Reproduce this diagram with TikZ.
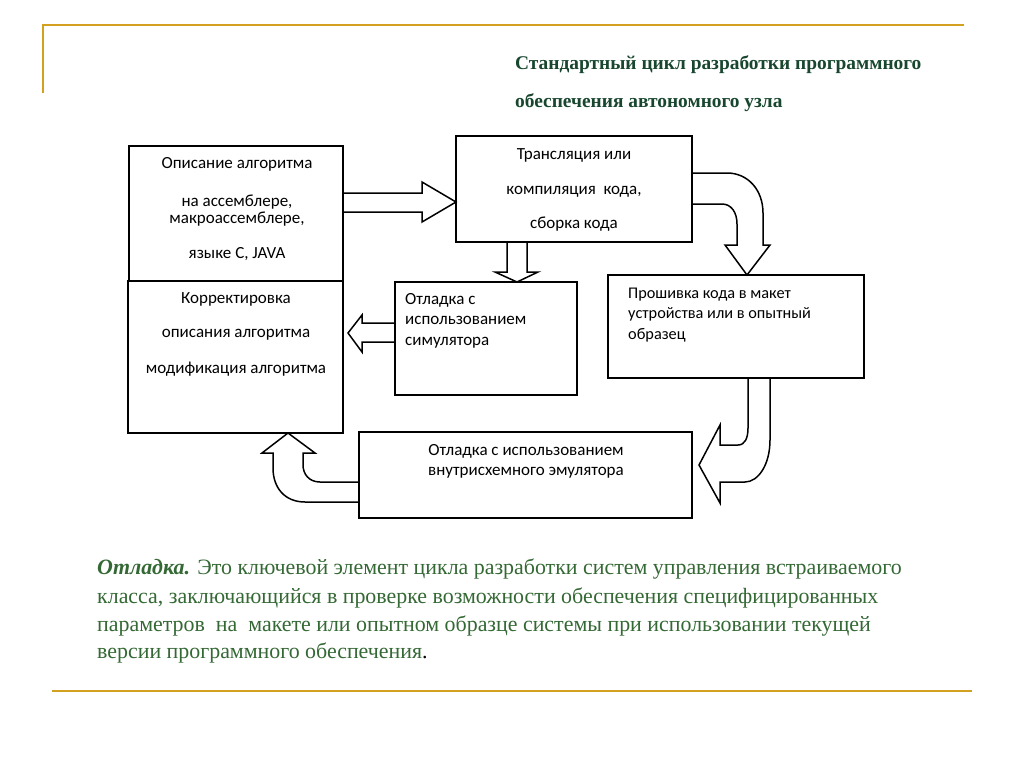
\documentclass[tikz,border=0pt]{standalone}
\usepackage{fontspec}
\setmainfont{Liberation Serif}
\newfontfamily\boxfont{Carlito}
\definecolor{gold}{RGB}{212,160,32}
\definecolor{titlegreen}{RGB}{24,70,46}
\definecolor{bodygreen}{RGB}{52,104,52}
\begin{document}
\begin{tikzpicture}[x=1pt,y=-1pt]
\useasboundingbox (0,0) rectangle (1024,768);
\tikzset{
  frame/.style={draw, line width=1.5pt, inner sep=0pt},
  blockarrow/.style={draw, fill=white, line width=1.5pt, line join=miter},
  btext/.style={inner sep=0pt, anchor=mid, font=\boxfont\fontsize{17}{20}\selectfont},
  ltext/.style={inner sep=0pt, anchor=mid west, font=\boxfont\fontsize{17}{20}\selectfont},
  pbtext/.style={inner sep=0pt, anchor=mid west, font=\boxfont\fontsize{16.3}{20}\selectfont},
  ttext/.style={inner sep=0pt, anchor=mid west, text=titlegreen, font=\fontsize{19.4}{22}\selectfont\bfseries},
  ptext/.style={inner sep=0pt, anchor=mid west, text=bodygreen, font=\fontsize{21.9}{24}\selectfont},
  rule/.style={draw=gold, line width=2pt}
}
% decorative rules
\coordinate (g1) at (42,25);
\coordinate (g2) at (964,25);
\coordinate (g0) at (43,24);
\coordinate (g3) at (43,93);
\coordinate (g4) at (52,691);
\coordinate (g5) at (972,691);
\draw[rule] (g1) -- (g2);
\draw[rule] (g0) -- (g3);
\draw[rule] (g4) -- (g5);

% title
\node[ttext] (t1) at (515,67) {Стандартный цикл разработки программного};
\node[ttext] (t2) at (515,105) {обеспечения автономного узла};

% block arrows (drawn before boxes)
\draw[blockarrow] (343,193) -- (422,193) -- (422,182) -- (456,202) -- (422,222) -- (422,212) -- (343,212) -- cycle;
\draw[blockarrow] (507,242) -- (507,272) -- (495,272) -- (517,282) -- (538,272) -- (527,272) -- (527,242) -- cycle;
\draw[blockarrow] (395,323) -- (362,323) -- (362,315) -- (348,333) -- (362,352) -- (362,342) -- (395,342) -- cycle;
\draw[blockarrow] (692,173) -- (727,173) .. controls (748,173) and (763,190) .. (763,213) -- (763,245) -- (770,245) -- (747,275) -- (725,245) -- (737,245) -- (737,224) .. controls (737,212) and (731,204) .. (722,204) -- (692,204) -- cycle;
\draw[blockarrow] (748,378) -- (748,428) .. controls (748,438) and (745,445) .. (738,445) -- (720,445) -- (720,425) -- (699,465) -- (720,503) -- (720,482) -- (745,482) .. controls (758,482) and (770,465) .. (770,440) -- (770,378) -- cycle;
\draw[blockarrow] (359,482) -- (320,482) .. controls (309,482) and (303,474) .. (303,465) -- (303,453) -- (315,453) -- (288,433) -- (262,453) -- (273,453) -- (273,468) .. controls (273,488) and (285,502) .. (305,502) -- (359,502) -- cycle;

% boxes
\node[frame, minimum width=214pt, minimum height=135pt] (A) at (236,213.5) {};
\node[frame, minimum width=215pt, minimum height=152pt] (K) at (235.5,357) {};
\node[frame, minimum width=236pt, minimum height=106pt] (T) at (574,189) {};
\node[frame, minimum width=182pt, minimum height=113pt] (S) at (486,338.5) {};
\node[frame, minimum width=256pt, minimum height=103pt] (P) at (736,326.5) {};
\node[frame, minimum width=333pt, minimum height=86pt] (E) at (525.5,475) {};

% box texts
\node[btext] (a1) at (237,166) {Описание алгоритма};
\node[btext] (a2) at (237,204) {на ассемблере,};
\node[btext] (a3) at (237,221) {макроассемблере,};
\node[btext] (a4) at (237,256) {языке С, JAVA};

\node[btext] (k1) at (236,301) {Корректировка};
\node[btext] (k2) at (236,335) {описания алгоритма};
\node[btext] (k3) at (236,371) {модификация алгоритма};

\node[btext] (tt1) at (574,157) {Трансляция или};
\node[btext] (tt2) at (574,192) {компиляция\ \ кода,};
\node[btext] (tt3) at (574,226) {сборка кода};

\node[ltext] (s1) at (405,302) {Отладка с};
\node[ltext] (s2) at (405,322) {использованием};
\node[ltext] (s3) at (405,343) {симулятора};

\node[pbtext] (p1) at (628,296) {Прошивка кода в макет};
\node[pbtext] (p2) at (628,316) {устройства или в опытный};
\node[pbtext] (p3) at (628,337) {образец};

\node[btext] (e1) at (526,453) {Отладка с использованием};
\node[btext] (e2) at (526,473) {внутрисхемного эмулятора};

% paragraph
\node[ptext] (b1) at (97,572) {\textbf{\textit{Отладка.}} Это ключевой элемент цикла разработки систем управления встраиваемого};
\node[ptext] (b2) at (97,601) {класса, заключающийся в проверке возможности обеспечения специфицированных};
\node[ptext] (b3) at (97,629) {параметров\ \ на\ \ макете или опытном образце системы при использовании текущей};
\node[ptext] (b4) at (97,656) {версии программного обеспечения\textcolor{black}{.}};
\end{tikzpicture}
\end{document}
